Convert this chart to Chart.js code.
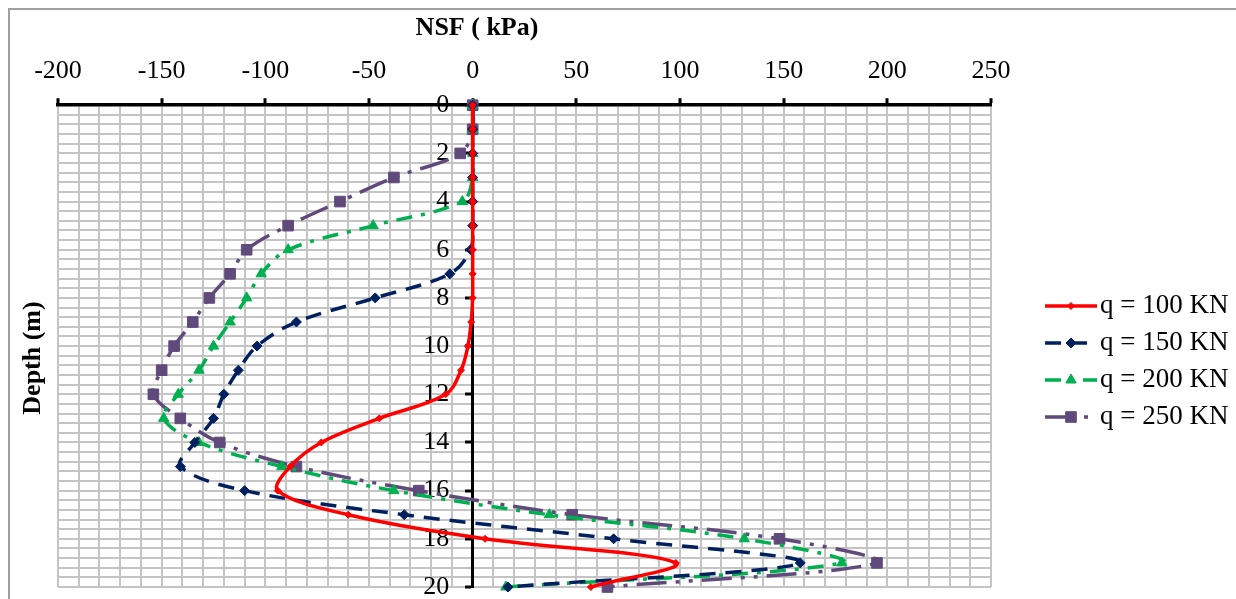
<!DOCTYPE html>
<html>
<head>
<meta charset="utf-8">
<title>NSF vs Depth</title>
<script src="https://cdn.jsdelivr.net/npm/chart.js@4.4.1/dist/chart.umd.min.js"></script>
<style>
  html, body { margin: 0; padding: 0; background: #fff; }
  canvas { display: block; }
</style>
</head>
<body>
<canvas id="nsf-chart" width="1236" height="599"></canvas>
<script>
// depth below pile head (m)
const depth = [0, 1, 2, 3, 4, 5, 6, 7, 8, 9, 10, 11, 12, 13, 14, 15, 16, 17, 18, 19, 20];

// negative skin friction (kPa) for each head load
const nsf_q100 = [0, 0, 0, 0, 0, 0, 0, 0, 0, -0.7, -2.3, -5.6, -13, -45, -73, -88, -94, -60, 6, 98, 57];
const nsf_q150 = [0, 0, 0, 0, 0, 0, -1, -11, -47, -85, -104, -113, -120, -125, -134, -141, -110, -33, 68, 158, 17];
const nsf_q200 = [0, 0, 0, 0, -5, -48, -89, -102, -109, -117, -125, -132, -142, -149, -132, -92, -38, 37, 131, 178, 16];
const nsf_q250 = [0, 0, -6, -38, -64, -89, -109, -117, -127, -135, -144, -150, -154, -141, -122, -85, -26, 48, 148, 195, 65];

const series_labels = ["q = 100 KN", "q = 150 KN", "q = 200 KN", "q = 250 KN"];

const FONT = '"Times New Roman", "Liberation Serif", serif';

function toPoints(values) {
  return values.map((v, i) => ({ x: v, y: depth[i] }));
}

function makeSeries(label, values, color, dash, style, radius) {
  return {
    label: label,
    data: toPoints(values),
    showLine: true,
    borderColor: color,
    backgroundColor: color,
    pointBackgroundColor: color,
    pointBorderColor: color,
    pointBorderWidth: 1,
    pointStyle: style,
    pointRadius: radius,
    borderWidth: 3.5,
    borderDash: dash,
    borderJoinStyle: "round",
    tension: 0.35,
    clip: false,
  };
}

// frame, axis titles and the legend are painted after the chart
const decorations = {
  id: "decorations",
  afterDraw(chart) {
    const ctx = chart.ctx;
    ctx.save();
    ctx.strokeStyle = "#a0a0a0";
    ctx.lineWidth = 2;
    ctx.strokeRect(9, 9, chart.width + 20, chart.height + 20);

    ctx.fillStyle = "#000";
    ctx.font = "bold 26px " + FONT;
    ctx.textAlign = "center";
    ctx.textBaseline = "middle";
    ctx.fillText("NSF ( kPa)", 477, 28);
    ctx.save();
    ctx.translate(33, 358);
    ctx.rotate(-Math.PI / 2);
    ctx.fillText("Depth (m)", 0, 0);
    ctx.restore();

    const lx = 1045, ly = 306, step = 37;
    chart.data.datasets.forEach((ds, i) => {
      const y = ly + i * step;
      ctx.save();
      ctx.strokeStyle = ds.borderColor;
      ctx.lineWidth = ds.borderWidth;
      ctx.setLineDash(ds.borderDash);
      ctx.beginPath();
      ctx.moveTo(lx, y);
      ctx.lineTo(lx + 52, y);
      ctx.stroke();
      ctx.restore();
      ctx.fillStyle = ds.pointBackgroundColor;
      ctx.strokeStyle = ds.pointBorderColor;
      ctx.lineWidth = 1;
      Chart.helpers.drawPoint(ctx, {
        pointStyle: ds.pointStyle,
        radius: ds.pointRadius,
        borderWidth: 1,
        rotation: 0,
      }, lx + 26, y);
      ctx.fillStyle = "#000";
      ctx.font = "27px " + FONT;
      ctx.textAlign = "left";
      ctx.fillText(ds.label, 1100, y);
    });
    ctx.restore();
  },
};

const isMajorX = (v) => v % 50 === 0;
const isMajorY = (v) => Math.abs(v / 2 - Math.round(v / 2)) < 1e-6;

const ctx = document.getElementById("nsf-chart").getContext("2d");
const nsfChart = new Chart(ctx, {
  type: "scatter",
  data: {
    datasets: [
      makeSeries(series_labels[0], nsf_q100, "#ff0000", [], "rectRot", 3.5),
      makeSeries(series_labels[1], nsf_q150, "#002060", [16, 10], "rectRot", 5),
      makeSeries(series_labels[2], nsf_q200, "#00b050", [16, 9, 4, 9], "triangle", 6),
      makeSeries(series_labels[3], nsf_q250, "#604a7b", [30, 9, 4, 9, 4, 9], "rect", 7.5),
    ],
  },
  options: {
    responsive: false,
    animation: false,
    layout: { padding: { left: 58, right: 245, top: 45, bottom: 12 } },
    plugins: {
      legend: { display: false },
      tooltip: { enabled: false },
    },
    scales: {
      x: {
        type: "linear",
        position: "top",
        min: -200,
        max: 250,
        border: { color: "#000", width: 3.5 },
        grid: {
          color: "#c4c4c4",
          lineWidth: 2,
          tickLength: 7,
          tickColor: (c) => (isMajorX(c.tick.value) ? "#000" : "rgba(0,0,0,0)"),
          tickWidth: (c) => (isMajorX(c.tick.value) ? 3 : 0),
        },
        ticks: {
          stepSize: 10,
          autoSkip: false,
          maxRotation: 0,
          minRotation: 0,
          padding: 11,
          color: "#000",
          font: { family: FONT, size: 26 },
          callback: (v) => (isMajorX(v) ? String(v) : ""),
        },
      },
      // depth axis: line, grid and tick marks at NSF = 0
      y: {
        type: "linear",
        position: { x: 0 },
        reverse: true,
        min: 0,
        max: 20,
        border: { color: "#000", width: 3 },
        grid: {
          color: "#c4c4c4",
          lineWidth: 2,
          tickLength: 6,
          tickColor: (c) => (isMajorY(c.tick.value) ? "#000" : "rgba(0,0,0,0)"),
          tickWidth: (c) => (isMajorY(c.tick.value) ? 3 : 0),
        },
        ticks: {
          stepSize: 0.4,
          autoSkip: false,
          padding: 0,
          font: { family: FONT, size: 26, lineHeight: 0.9 },
          callback: () => "",
        },
      },
      // depth labels, set a little to the left of the axis line
      yLabels: {
        type: "linear",
        axis: "y",
        position: { x: -11.3 },
        reverse: true,
        min: 0,
        max: 20,
        border: { display: false },
        grid: { display: false },
        ticks: {
          stepSize: 2,
          padding: 0,
          color: "#000",
          font: { family: FONT, size: 26, lineHeight: 0.9 },
        },
      },
    },
  },
  plugins: [decorations],
});
</script>
</body>
</html>
